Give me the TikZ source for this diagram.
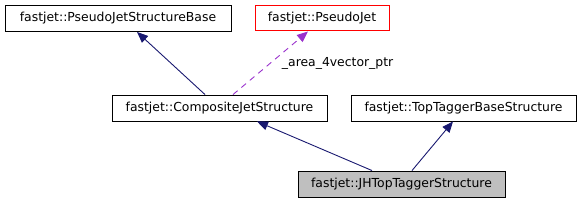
\documentclass[tikz,border=0pt]{standalone}
\usepackage{fontspec}
\setmainfont{DejaVu Sans}
\usepackage{xcolor}
\usetikzlibrary{arrows.meta,positioning}
\definecolor{xnavy}{HTML}{191970}
\definecolor{xpurple}{HTML}{9A32CD}
\definecolor{xgrey}{HTML}{BFBFBF}

\begin{document}
\begin{tikzpicture}[
    x=1pt, y=-1pt,
    >={Triangle[length=11pt,width=9pt]},
    cls/.style={rectangle, draw=black, line width=0.9pt, inner sep=0pt, minimum height=26pt, font=\fontsize{12.4}{14}\selectfont, fill=#1},
    cls/.default=white,
    inherit/.style={->, line width=0.9pt, xnavy},
    member/.style={->, line width=0.9pt, xpurple, dash pattern=on 6pt off 5pt},
]
\useasboundingbox (0,0) rectangle (581,203);

% Classes
\node[cls, minimum width=226pt] (base) at (118,18.5) {fastjet::PseudoJetStructureBase};
\node[cls, draw=red, line width=1pt, minimum width=134pt, minimum height=25pt] (pj) at (322,18.5) {fastjet::PseudoJet};
\node[cls, minimum width=215pt] (comp) at (219.5,108) {fastjet::CompositeJetStructure};
\node[cls, minimum width=225pt] (ttb) at (463.5,108) {fastjet::TopTaggerBaseStructure};
\node[cls=xgrey, minimum width=207pt] (jh) at (401.5,184) {fastjet::JHTopTaggerStructure};

% Inheritance
\draw[inherit] ([xshift=-14.5pt]comp.north) -- ([xshift=19pt]base.south);
\draw[inherit] ([xshift=-29.5pt]jh.north) -- ([xshift=37.5pt]comp.south);
\draw[inherit] ([xshift=10.5pt]jh.north) -- ([xshift=-10.5pt]ttb.south);

% Member
\draw[member] ([xshift=13.5pt]comp.north) -- node[anchor=west, inner sep=0pt, xshift=11pt, text=black, font=\fontsize{12.4}{14}\selectfont] (ptr) {\_area\_4vector\_ptr} ([xshift=-14pt]pj.south);

\end{tikzpicture}
\end{document}
